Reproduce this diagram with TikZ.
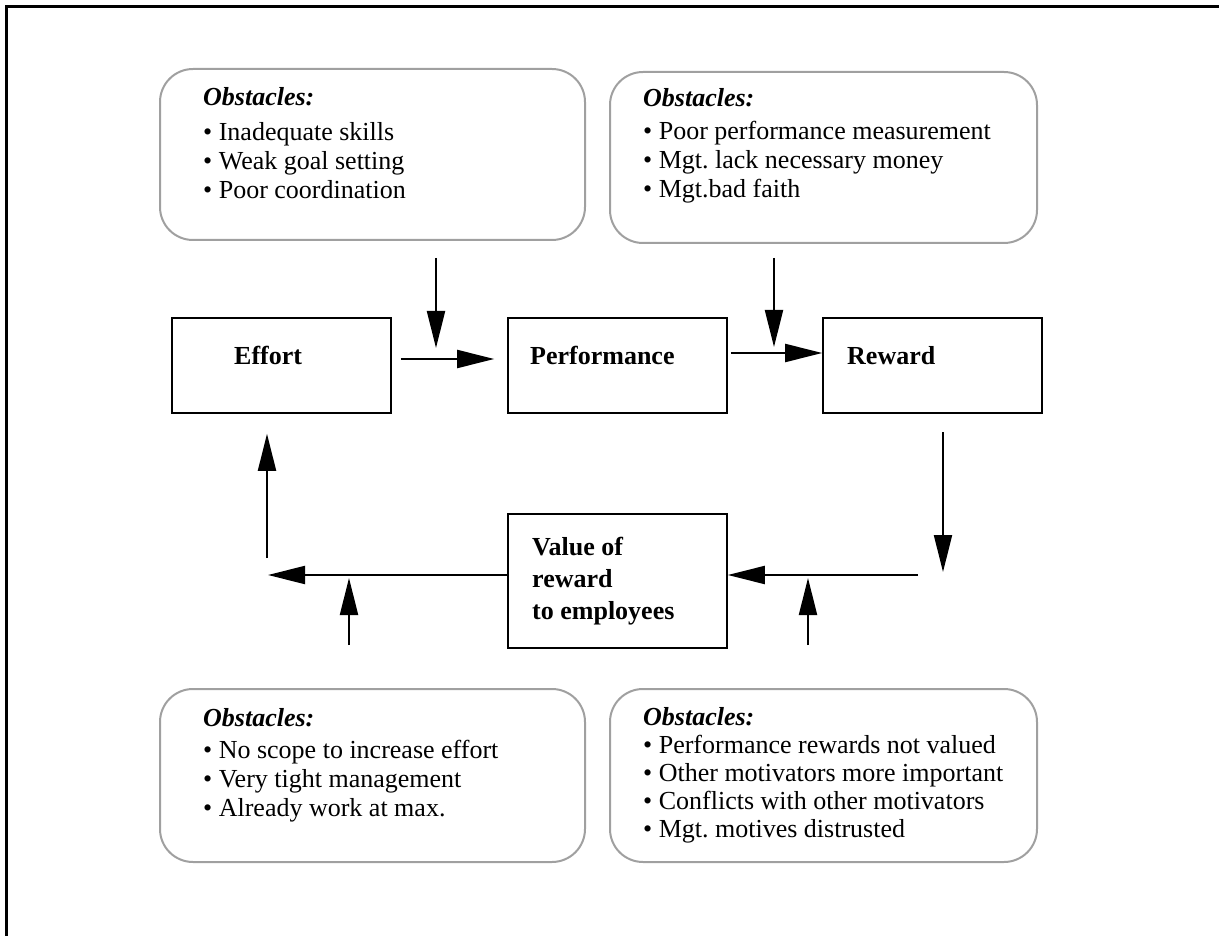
\documentclass[tikz,border=0pt]{standalone}
\usepackage{fontspec}
\setmainfont{Liberation Serif}
\usetikzlibrary{arrows.meta}
\definecolor{boxgray}{RGB}{160,160,160}
\frenchspacing
\begin{document}
\frenchspacing
\begin{tikzpicture}[x=1pt,y=-1pt,
  obox/.style={draw=boxgray, line width=2pt, rounded corners=33pt, inner sep=0pt},
  sbox/.style={draw=black, line width=1.6pt, inner sep=0pt, minimum width=219pt, minimum height=95pt},
  otext/.style={anchor=north west, inner sep=0pt, align=left, font=\fontsize{26}{29}\selectfont},
  ltext/.style={anchor=base west, inner sep=0pt, font=\fontsize{26}{32}\selectfont\bfseries},
  arr/.style={line width=2pt, -{Triangle[length=37pt,width=18pt]}},
  frameline/.style={line width=3pt}
]
\useasboundingbox (0,0) rectangle (1219,936);
\draw[frameline] (6.5,936) -- (6.5,6.5) -- (1219,6.5);

% obstacle boxes
\node[obox, minimum width=425pt, minimum height=171pt] (ob1) at (372.5,154.5) {};
\node[obox, minimum width=427pt, minimum height=171pt] (ob2) at (823.5,157.5) {};
\node[obox, minimum width=425pt, minimum height=173pt] (ob3) at (372.5,775.5) {};
\node[obox, minimum width=427pt, minimum height=173pt] (ob4) at (823.5,775.5) {};

\node[otext] (ob1t) at (203,87) {\textbf{\textit{Obstacles:}}\\[6pt]
  \textbullet\ Inadequate skills\\
  \textbullet\ Weak goal setting\\
  \textbullet\ Poor coordination};
\node[otext] (ob2t) at (643,88) {\textbf{\textit{Obstacles:}}\\[4pt]
  \textbullet\ Poor performance measurement\\
  \textbullet\ Mgt. lack necessary money\\
  \textbullet\ Mgt.bad faith};
\node[otext] (ob3t) at (203,708) {\textbf{\textit{Obstacles:}}\\[3pt]
  \textbullet\ No scope to increase effort\\
  \textbullet\ Very tight management\\
  \textbullet\ Already work at max.};
\node[otext, font=\fontsize{26}{28}\selectfont] (ob4t) at (643,707) {\textbf{\textit{Obstacles:}}\\
  \textbullet\ Performance rewards not valued\\
  \textbullet\ Other motivators more important\\
  \textbullet\ Conflicts with other motivators\\
  \textbullet\ Mgt. motives distrusted};

% main boxes
\node[sbox] (eff) at (281.5,365.5) {};
\node[sbox] (perf) at (617.5,365.5) {};
\node[sbox] (rew) at (932.5,365.5) {};
\node[sbox, minimum height=134pt] (val) at (617.5,581) {};

\node[ltext] (effl) at (234,364) {Effort};
\node[ltext] (perfl) at (530,364) {Performance};
\node[ltext] (rewl) at (847,364) {Reward};
\node[anchor=north west, inner sep=0pt, align=left, font=\fontsize{26}{32}\selectfont\bfseries] (vall) at (532,537) {Value of\\reward\\to employees};

% coordinates for free ends
\coordinate (a1s) at (436,258);
\coordinate (a1e) at (436,348);
\coordinate (a2y) at (0,359);
\coordinate (a3s) at (774,258);
\coordinate (a3e) at (774,347);
\coordinate (a4y) at (0,353);
\coordinate (a5s) at (943,432);
\coordinate (a5e) at (943,572);
\coordinate (a6s) at (918,575);
\coordinate (a7e) at (268,575);
\coordinate (a8s) at (267,558);
\coordinate (a9s) at (349,645);
\coordinate (a9e) at (349,578);
\coordinate (a10s) at (808,645);
\coordinate (a10e) at (808,578);

% arrows
\draw[arr] (a1s) -- (a1e);
\draw[arr, shorten <=9pt, shorten >=13pt] (eff.east |- a2y) -- (perf.west |- a2y);
\draw[arr] (a3s) -- (a3e);
\draw[arr, shorten <=3pt] (perf.east |- a4y) -- (rew.west |- a4y);
\draw[arr] (a5s) -- (a5e);
\draw[arr] (a6s) -- (val.east |- a6s);
\draw[arr] (val.west |- a7e) -- (a7e);
\draw[arr, shorten >=20pt] (a8s) -- (eff.south -| a8s);
\draw[arr] (a9s) -- (a9e);
\draw[arr] (a10s) -- (a10e);
\end{tikzpicture}
\end{document}
